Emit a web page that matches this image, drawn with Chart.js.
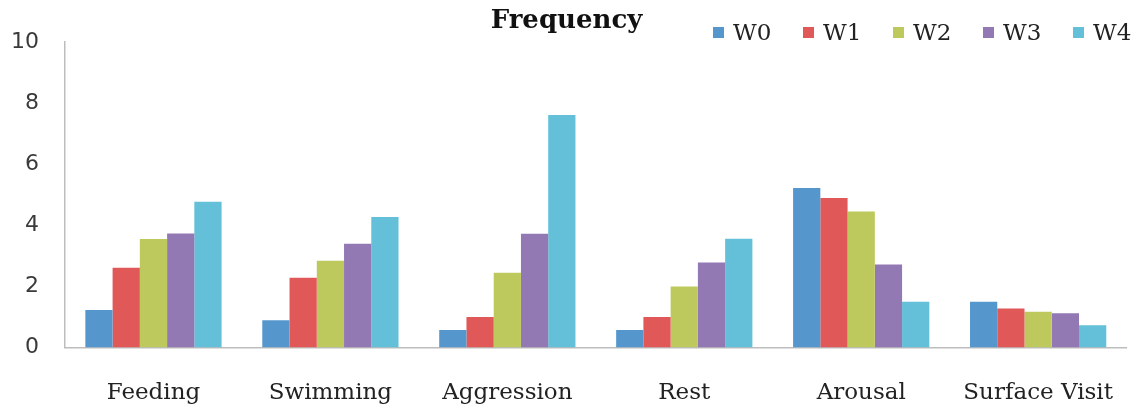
<!DOCTYPE html>
<html>
<head>
<meta charset="utf-8">
<title>Frequency</title>
<script src="https://cdn.jsdelivr.net/npm/chart.js@4.4.1/dist/chart.umd.min.js"></script>
<style>
  html, body { margin: 0; padding: 0; background: #fff; overflow: hidden; }
  #wrap { position: relative; width: 1146px; height: 409px; }
  #c { display: block; }
  #legend {
    position: absolute; left: 713px; top: 21px;
    margin: 0; padding: 0; list-style: none;
    display: flex; white-space: nowrap;
  }
  #legend li {
    display: flex; align-items: center;
    width: 90px; height: 23px;
    font-family: "DejaVu Serif", serif; font-size: 23px; line-height: 23px;
    color: #222;
  }
  #legend .box { width: 11px; height: 11px; margin-right: 9px; flex: none; }
</style>
</head>
<body>
<div id="wrap">
  <canvas id="c" width="1146" height="409"></canvas>
  <ul id="legend"></ul>
</div>
<script>
// Behaviour categories on the x axis
const categories = ['Feeding', 'Swimming', 'Aggression', 'Rest', 'Arousal', 'Surface Visit'];

// Week series names and colours
const seriesNames = ['W0', 'W1', 'W2', 'W3', 'W4'];
const seriesColors = ['#5597cd', '#e05958', '#bdc95d', '#9379b3', '#63c0d8'];

// Mean frequency per behaviour, one array per week
const w0 = [1.23, 0.89, 0.57, 0.57, 5.22, 1.50];
const w1 = [2.61, 2.28, 1.00, 1.00, 4.89, 1.28];
const w2 = [3.55, 2.84, 2.45, 2.00, 4.45, 1.17];
const w3 = [3.73, 3.40, 3.72, 2.78, 2.72, 1.12];
const w4 = [4.77, 4.27, 7.61, 3.56, 1.50, 0.73];

// Y axis tick values
const yTicks = [0, 2, 4, 6, 8, 10];

const seriesValues = [w0, w1, w2, w3, w4];

const datasets = seriesNames.map((name, i) => ({
  label: name,
  data: seriesValues[i],
  backgroundColor: seriesColors[i],
  borderWidth: 0,
  categoryPercentage: 0.77,
  barPercentage: 1.0
}));

// Builds the legend list from the chart's own legend items
const htmlLegend = {
  id: 'htmlLegend',
  afterUpdate(chart) {
    const ul = document.getElementById('legend');
    ul.innerHTML = '';
    const items = chart.options.plugins.legend.labels.generateLabels(chart);
    items.forEach(item => {
      const li = document.createElement('li');
      const box = document.createElement('span');
      box.className = 'box';
      box.style.background = item.fillStyle;
      const txt = document.createElement('span');
      txt.textContent = item.text;
      li.appendChild(box);
      li.appendChild(txt);
      ul.appendChild(li);
    });
  }
};

new Chart(document.getElementById('c'), {
  type: 'bar',
  data: { labels: categories, datasets },
  plugins: [htmlLegend],
  options: {
    responsive: false,
    animation: false,
    layout: { padding: { left: 0, right: 13, top: 0, bottom: 0 } },
    plugins: {
      legend: { display: false },
      tooltip: { enabled: false },
      title: {
        display: true,
        text: 'Frequency',
        color: '#111',
        font: { family: 'DejaVu Serif', size: 26, weight: 'bold', lineHeight: 1.2 },
        padding: { top: 6, bottom: 4.8 }
      }
    },
    scales: {
      x: {
        grid: { display: false, drawTicks: false },
        border: { display: true, color: '#bdbdbd', width: 1.5 },
        ticks: {
          color: '#222',
          font: { family: 'DejaVu Serif', size: 23, lineHeight: 1.2 },
          padding: 32,
          maxRotation: 0,
          autoSkip: false
        },
        afterFit(scale) { scale.height = 61.5; }
      },
      y: {
        min: 0,
        max: 10,
        grid: { display: false, drawTicks: false },
        border: { display: true, color: '#bdbdbd', width: 1.5 },
        ticks: {
          color: '#3a3a3a',
          font: { family: 'DejaVu Sans', size: 22 },
          padding: 26
        },
        afterBuildTicks(scale) { scale.ticks = yTicks.map(v => ({ value: v })); },
        afterFit(scale) { scale.width = 65; }
      }
    }
  }
});
</script>
</body>
</html>
